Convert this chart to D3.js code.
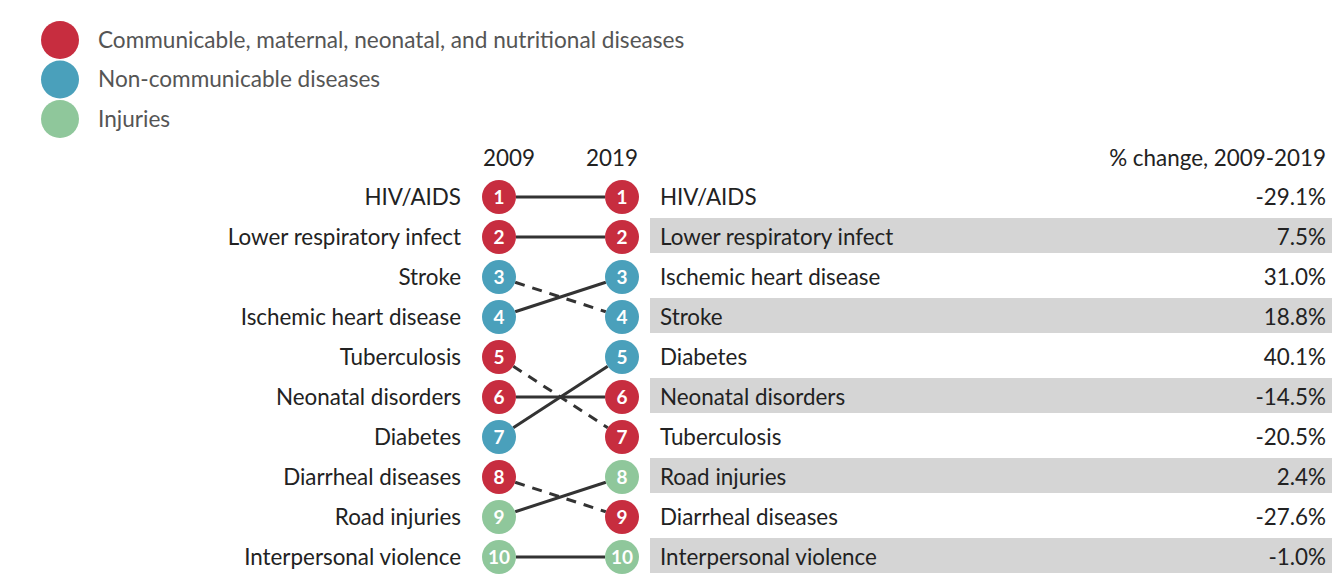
<!DOCTYPE html>
<html>
<head>
<meta charset="utf-8">
<script src="https://cdn.jsdelivr.net/npm/d3@7"></script>
<style>
    body { margin: 0; background: #fff; }
    svg text { font-family: Lato, "Noto Sans", sans-serif; }
</style>
</head>
<body>
<svg id="viz"></svg>
<script>
// rankings (top 10 causes), ordered by rank
let causes2009 = ['HIV/AIDS', 'Lower respiratory infect', 'Stroke', 'Ischemic heart disease', 'Tuberculosis',
    'Neonatal disorders', 'Diabetes', 'Diarrheal diseases', 'Road injuries', 'Interpersonal violence']
let causes2019 = ['HIV/AIDS', 'Lower respiratory infect', 'Ischemic heart disease', 'Stroke', 'Diabetes',
    'Neonatal disorders', 'Tuberculosis', 'Road injuries', 'Diarrheal diseases', 'Interpersonal violence']
let pctChange = [-29.1, 7.5, 31.0, 18.8, 40.1, -14.5, -20.5, 2.4, -27.6, -1.0]
let years = ['2009', '2019']
let groupNames = ['Communicable, maternal, neonatal, and nutritional diseases', 'Non-communicable diseases', 'Injuries']
let groupColors = ['#c72d3f', '#4aa0bb', '#8fc79b']
let causeGroup = {
    'HIV/AIDS': 0, 'Lower respiratory infect': 0, 'Tuberculosis': 0, 'Neonatal disorders': 0, 'Diarrheal diseases': 0,
    'Stroke': 1, 'Ischemic heart disease': 1, 'Diabetes': 1,
    'Road injuries': 2, 'Interpersonal violence': 2
}

;(function () {
    let W = 1340, H = 585
    let r = 17
    let fs = 22.4
    let svg = d3.select('#viz').attr('width', W).attr('height', H)

    let color = d3.scaleOrdinal().domain(d3.range(groupNames.length)).range(groupColors)
    let yRank = d3.scaleLinear().domain([1, 10]).range([197, 557])
    let xYear = d3.scalePoint().domain(years).range([499, 622])
    let yLegend = d3.scalePoint().domain(groupNames).range([40, 119])

    // legend
    let leg = svg.append('g')
    groupNames.forEach((name, i) => {
        leg.append('circle')
            .attr('cx', 60).attr('cy', yLegend(name)).attr('r', 19)
            .attr('fill', color(i))
        leg.append('text')
            .attr('x', 98).attr('y', yLegend(name)).attr('dy', '0.35em')
            .attr('font-size', 22.6).attr('fill', '#555')
            .text(name)
    })

    // headers
    svg.append('text').attr('x', xYear('2009') + 10).attr('y', 158).attr('dy', '0.35em')
        .attr('text-anchor', 'middle').attr('font-size', fs).attr('fill', '#222').text('2009')
    svg.append('text').attr('x', xYear('2019') - 10).attr('y', 158).attr('dy', '0.35em')
        .attr('text-anchor', 'middle').attr('font-size', fs).attr('fill', '#222').text('2019')
    svg.append('text').attr('x', 1326).attr('y', 158).attr('dy', '0.35em')
        .attr('text-anchor', 'end').attr('font-size', fs).attr('fill', '#222').text('% change, 2009-2019')

    // alternating bands on the right table
    causes2019.forEach((c, i) => {
        if (i % 2 === 1) {
            svg.append('rect')
                .attr('x', 650).attr('y', yRank(i + 1) - 19)
                .attr('width', 1332 - 650).attr('height', 35)
                .attr('fill', '#d5d5d5')
        }
    })

    // connecting lines
    let gLines = svg.append('g')
    causes2009.forEach((c, i) => {
        let r1 = i + 1
        let r2 = causes2019.indexOf(c) + 1
        let x1 = xYear('2009'), x2 = xYear('2019')
        let y1 = yRank(r1), y2 = yRank(r2)
        let len = Math.hypot(x2 - x1, y2 - y1)
        let ux = (x2 - x1) / len, uy = (y2 - y1) / len
        gLines.append('line')
            .attr('x1', x1 + ux * r).attr('y1', y1 + uy * r)
            .attr('x2', x2 - ux * r).attr('y2', y2 - uy * r)
            .attr('stroke', '#333').attr('stroke-width', 3)
            .attr('stroke-dasharray', r2 > r1 ? '10,8' : null)
    })

    // circles + labels
    function drawColumn(causes, year, labelSide) {
        let x = xYear(year)
        causes.forEach((c, i) => {
            let y = yRank(i + 1)
            svg.append('circle').attr('cx', x).attr('cy', y).attr('r', r)
                .attr('fill', color(causeGroup[c]))
            svg.append('text').attr('x', x).attr('y', y).attr('dy', '0.36em')
                .attr('text-anchor', 'middle').attr('font-size', 19).attr('font-weight', 'bold')
                .attr('fill', '#fff').text(i + 1)
            if (labelSide === 'left') {
                svg.append('text').attr('x', 461).attr('y', y).attr('dy', '0.35em')
                    .attr('text-anchor', 'end').attr('font-size', fs).attr('fill', '#222').text(c)
            } else {
                svg.append('text').attr('x', 660).attr('y', y).attr('dy', '0.35em')
                    .attr('font-size', fs).attr('fill', '#222').text(c)
            }
        })
    }
    drawColumn(causes2009, '2009', 'left')
    drawColumn(causes2019, '2019', 'right')

    // percent change
    pctChange.forEach((v, i) => {
        svg.append('text').attr('x', 1326).attr('y', yRank(i + 1)).attr('dy', '0.35em')
            .attr('text-anchor', 'end').attr('font-size', fs).attr('fill', '#222')
            .text(v.toFixed(1) + '%')
    })
})()
</script>
</body>
</html>
